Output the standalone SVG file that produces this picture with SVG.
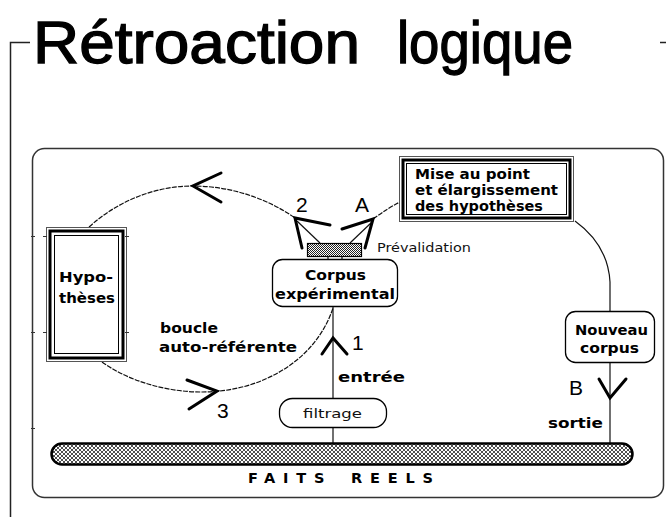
<svg xmlns="http://www.w3.org/2000/svg" width="666" height="517" viewBox="0 0 666 517">
  <defs>
    <style>
      .title { font-family: "Liberation Sans", Arial, sans-serif; font-size: 60px; fill: #000; stroke: #000; stroke-width: 1.3; }
      .lbl { font-family: "DejaVu Sans", "Liberation Sans", sans-serif; font-weight: bold; font-size: 14.5px; fill: #000; }
      .reg { font-family: "DejaVu Sans", "Liberation Sans", sans-serif; font-size: 12.5px; fill: #111; }
      .big { font-family: "Liberation Sans", Arial, sans-serif; font-size: 21px; fill: #000; }
      .thin { fill: none; stroke: #111; stroke-width: 1.2; }
      .curve { fill: none; stroke: #111; stroke-width: 1.2; stroke-dasharray: 5 1.2; }
      .head { fill: none; stroke: #000; stroke-width: 3; stroke-linecap: round; stroke-linejoin: miter; }
      .frame { fill: none; stroke: #333; stroke-width: 1.5; }
      .box { fill: #fff; stroke: #000; stroke-width: 1.3; }
      .tick { stroke: #333; stroke-width: 1; }
    </style>
    <!-- coarse gravel texture for the ground bar -->
    <pattern id="gravel" width="4" height="4" patternUnits="userSpaceOnUse">
      <rect width="4" height="4" fill="#111"/>
      <circle cx="0" cy="0" r="1.3" fill="#fff"/>
      <circle cx="4" cy="0" r="1.3" fill="#fff"/>
      <circle cx="0" cy="4" r="1.3" fill="#fff"/>
      <circle cx="4" cy="4" r="1.3" fill="#fff"/>
      <circle cx="2" cy="2" r="1.3" fill="#fff"/>
    </pattern>
    <!-- fine grey screen for the prevalidation strip -->
    <pattern id="screen" width="2" height="2" patternUnits="userSpaceOnUse">
      <rect width="2" height="2" fill="#fff"/>
      <rect width="1" height="1" fill="#222"/>
      <rect x="1" y="1" width="1" height="1" fill="#222"/>
    </pattern>
  </defs>

  <rect width="666" height="517" fill="#fff"/>

  <!-- page frame and title -->
  <g id="title">
    <path d="M10.5,517 V42.5 H30" fill="none" stroke="#222" stroke-width="1.5"/>
    <path d="M660,42.5 H666" fill="none" stroke="#222" stroke-width="1.5"/>
    <text class="title" y="63"><tspan x="33" textLength="327" lengthAdjust="spacingAndGlyphs">Rétroaction</tspan><tspan x="397" textLength="176" lengthAdjust="spacingAndGlyphs">logique</tspan></text>
  </g>

  <!-- diagram panel -->
  <g id="panel">
    <rect class="frame" x="32.5" y="148.5" width="631" height="349" rx="12"/>
    <line class="tick" x1="31" y1="236.5" x2="35" y2="236.5"/>
    <line class="tick" x1="31" y1="332.5" x2="35" y2="332.5"/>
    <line class="tick" x1="31" y1="428.5" x2="35" y2="428.5"/>
  </g>

  <!-- connectors -->
  <g id="connectors">
    <!-- self-referential loop -->
    <path class="curve" d="M89,227 C120,199 158,186 192,186 C232,186 268,199 295,218"/>
    <path class="curve" d="M102,362 C130,382 168,392 202,392 C262,392 316,360 333,308"/>
    <!-- prevalidation to refinement box -->
    <path class="curve" d="M373,219 Q388,208 400,202"/>
    <!-- refinement box to new corpus -->
    <path class="thin" d="M575,221 Q608,245 610,282 L610,311"/>
    <!-- output branch -->
    <line class="thin" x1="610" y1="363" x2="610" y2="443"/>
    <!-- input branch -->
    <line class="thin" x1="333" y1="307" x2="333" y2="398"/>
    <line class="thin" x1="333" y1="428" x2="333" y2="443"/>
    <!-- strip feet -->
    <line class="thin" x1="328" y1="257" x2="328" y2="260"/>
    <line class="thin" x1="342" y1="257" x2="342" y2="260"/>
    <!-- thin stays from arrow points to strip -->
    <line class="thin" x1="297" y1="221" x2="320" y2="243"/>
    <line class="thin" x1="372" y1="222" x2="350" y2="243"/>

    <!-- arrowheads -->
    <polyline class="head" points="221,173 193,186 221,202"/>
    <polyline class="head" points="330,225 295,218 302,248"/>
    <polyline class="head" points="342,229 373,219 365,248"/>
    <polyline class="head" points="187,380 217,391 189,409"/>
    <polyline class="head" points="322,354 333,338 347,354"/>
    <polyline class="head" points="599,379 610,398 626,379"/>

    <!-- arrow numbering -->
    <text class="big" x="296" y="212">2</text>
    <text class="big" x="355" y="212">A</text>
    <text class="big" x="217" y="418">3</text>
    <text class="big" x="352" y="350">1</text>
    <text class="big" x="569" y="395">B</text>

    <!-- branch labels -->
    <text class="lbl" x="338" y="382" textLength="67" lengthAdjust="spacingAndGlyphs">entrée</text>
    <text class="lbl" x="548" y="428" textLength="55" lengthAdjust="spacingAndGlyphs">sortie</text>
    <text class="lbl" x="160" y="333" textLength="58" lengthAdjust="spacingAndGlyphs">boucle</text>
    <text class="lbl" x="159" y="352" textLength="138" lengthAdjust="spacingAndGlyphs">auto-référente</text>
  </g>

  <!-- hypotheses -->
  <g id="hypotheses">
    <rect x="46.5" y="227.5" width="80" height="134" fill="#fff" stroke="#555" stroke-width="1"/>
    <rect x="50" y="231" width="73" height="127" fill="none" stroke="#000" stroke-width="3"/>
    <rect x="54.5" y="235.5" width="64" height="118" fill="none" stroke="#000" stroke-width="1"/>
    <line class="tick" x1="43" y1="236.5" x2="47" y2="236.5"/>
    <line class="tick" x1="125" y1="236.5" x2="129" y2="236.5"/>
    <line class="tick" x1="43" y1="332.5" x2="47" y2="332.5"/>
    <line class="tick" x1="125" y1="332.5" x2="129" y2="332.5"/>
    <text class="lbl" x="59" y="282" textLength="54" lengthAdjust="spacingAndGlyphs">Hypo-</text>
    <text class="lbl" x="59" y="303" textLength="56" lengthAdjust="spacingAndGlyphs">thèses</text>
  </g>

  <!-- prevalidation strip -->
  <g id="prevalidation">
    <rect x="307.5" y="243.5" width="54" height="13" fill="url(#screen)" stroke="#000" stroke-width="1.2"/>
    <text class="reg" x="377" y="252" textLength="94" lengthAdjust="spacingAndGlyphs">Prévalidation</text>
  </g>

  <!-- experimental corpus -->
  <g id="corpus">
    <rect class="box" x="272.5" y="259.5" width="125" height="47" rx="10"/>
    <text class="lbl" x="305" y="280" textLength="61" lengthAdjust="spacingAndGlyphs">Corpus</text>
    <text class="lbl" x="275" y="299" textLength="120" lengthAdjust="spacingAndGlyphs">expérimental</text>
  </g>

  <!-- refinement of hypotheses -->
  <g id="refinement">
    <rect x="399.5" y="156.5" width="174" height="65" fill="#fff" stroke="#555" stroke-width="1"/>
    <rect x="403" y="160" width="167" height="58" fill="none" stroke="#000" stroke-width="3"/>
    <rect x="406.5" y="163.5" width="160" height="51" fill="none" stroke="#000" stroke-width="1"/>
    <text class="lbl" x="415" y="179" textLength="115" lengthAdjust="spacingAndGlyphs">Mise au point</text>
    <text class="lbl" x="415" y="195" textLength="143" lengthAdjust="spacingAndGlyphs">et élargissement</text>
    <text class="lbl" x="415" y="211" textLength="128" lengthAdjust="spacingAndGlyphs">des hypothèses</text>
  </g>

  <!-- new corpus -->
  <g id="nouveau">
    <rect class="box" x="565.5" y="311.5" width="89" height="51" rx="10"/>
    <text class="lbl" x="575" y="335" textLength="73" lengthAdjust="spacingAndGlyphs">Nouveau</text>
    <text class="lbl" x="580" y="353" textLength="59" lengthAdjust="spacingAndGlyphs">corpus</text>
  </g>

  <!-- filtering -->
  <g id="filtrage">
    <rect class="box" x="279.5" y="398.5" width="107" height="29" rx="13"/>
    <text class="reg" x="303" y="418" textLength="59" lengthAdjust="spacingAndGlyphs">filtrage</text>
  </g>

  <!-- real facts -->
  <g id="faits">
    <rect x="51.5" y="443.5" width="581" height="21" rx="10.5" fill="url(#gravel)" stroke="#000" stroke-width="2.5"/>
    <text class="lbl" x="248" y="483" font-size="14" textLength="185" lengthAdjust="spacing" word-spacing="6">FAITS REELS</text>
  </g>
</svg>
